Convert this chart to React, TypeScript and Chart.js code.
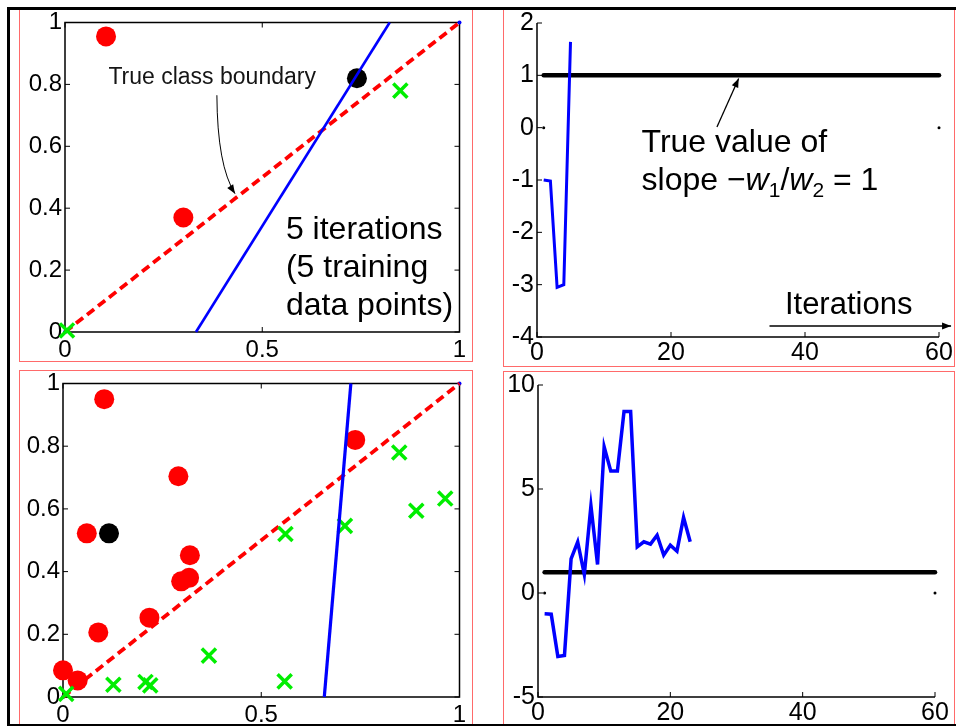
import { useEffect, useRef } from "react";
import { Chart, registerables } from "chart.js";

Chart.register(...registerables);

const FONT = '"Liberation Sans", Arial, Helvetica, sans-serif';
Chart.defaults.font.family = FONT;

// ---- feature space after 5 iterations (5 training points) ----
const earlyRedX = [0.104, 0.3];
const earlyRedY = [0.955, 0.37];
const earlyBlackX = [0.74];
const earlyBlackY = [0.82];
const earlyGreenX = [0.005, 0.85];
const earlyGreenY = [0.005, 0.78];
const earlyFitX = [0.332, 0.823];
const earlyFitY = [0, 1];

// ---- feature space with all training points ----
const lateRedX = [0.104, 0.737, 0.291, 0.06, 0.32, 0.298, 0.318, 0.218, 0.089, 0.0, 0.037];
const lateRedY = [0.95, 0.82, 0.704, 0.522, 0.452, 0.369, 0.38, 0.253, 0.206, 0.085, 0.053];
const lateBlackX = [0.116];
const lateBlackY = [0.522];
const lateGreenX = [0.008, 0.127, 0.208, 0.22, 0.368, 0.559, 0.561, 0.711, 0.848, 0.891, 0.964];
const lateGreenY = [0.01, 0.039, 0.048, 0.037, 0.132, 0.05, 0.52, 0.546, 0.78, 0.594, 0.633];
const lateFitX = [0.659, 0.726];
const lateFitY = [0, 1];

// true class boundary and the corner markers
const trueBoundaryX = [0, 1];
const trueBoundaryY = [0, 1];
const cornerX = [0, 1];
const cornerY = [0, 1];

// ---- slope estimate -w1/w2 per iteration ----
const earlyIterations = [1, 2, 3, 4, 5];
const earlySlope = [-1, -1.02, -3.05, -3.0, 1.64];
const lateIterations = [1, 2, 3, 4, 5, 6, 7, 8, 9, 10, 11, 12, 13, 14, 15, 16, 17, 18, 19, 20, 21, 22, 23];
const lateSlope = [
  -1, -1.02, -3.05, -3.0, 1.64, 2.46, 0.89, 4.19, 1.37, 7.03, 5.86, 5.86,
  8.72, 8.72, 2.22, 2.46, 2.35, 2.78, 1.82, 2.3, 2.01, 3.63, 2.46,
];
const trueSlopeX = [1, 60];
const trueSlopeY = [1, 1];
const zeroMarkX = [1, 60];
const zeroMarkY = [0, 0];

// ---- tick values ----
const unitXTicks = [0, 0.5, 1];
const unitYTicks = [0, 0.2, 0.4, 0.6, 0.8, 1];
const iterTicks = [0, 20, 40, 60];
const earlySlopeTicks = [-4, -3, -2, -1, 0, 1, 2];
const lateSlopeTicks = [-5, 0, 5, 10];

const pts = (xs: number[], ys: number[]) => xs.map((x, i) => ({ x, y: ys[i] }));

function axis(
  min: number,
  max: number,
  ticks: number[],
  horizontal: boolean,
  extent: number,
  size: number,
  pad: number
) {
  return {
    type: "linear" as const,
    min,
    max,
    grid: { display: false, drawTicks: false },
    border: { display: false },
    ticks: {
      autoSkip: false,
      maxRotation: 0,
      minRotation: 0,
      padding: pad,
      color: "#000",
      font: { family: FONT, size, lineHeight: 1 },
      callback: (v: number | string) => String(v),
    },
    afterBuildTicks: (s: any) => {
      s.ticks = ticks.map((v) => ({ value: v }));
    },
    afterFit: (s: any) => {
      if (horizontal) s.height = extent;
      else s.width = extent;
      s.paddingLeft = 0;
      s.paddingRight = 0;
      s.paddingTop = 0;
      s.paddingBottom = 0;
    },
  };
}

function arrowHead(ctx: CanvasRenderingContext2D, x: number, y: number, ang: number, len = 9, half = 3.5) {
  const c = Math.cos(ang);
  const s = Math.sin(ang);
  ctx.beginPath();
  ctx.moveTo(x, y);
  ctx.lineTo(x - len * c + half * s, y - len * s - half * c);
  ctx.lineTo(x - len * c - half * s, y - len * s + half * c);
  ctx.closePath();
  ctx.fill();
}

type Annotate = (ctx: CanvasRenderingContext2D, X: (v: number) => number, Y: (v: number) => number) => void;

function framePlugin(boxed: boolean, xTicks: number[], yTicks: number[], annotate?: Annotate) {
  return {
    id: "panelFrame",
    beforeDraw(chart: any) {
      const { ctx, width, height } = chart;
      ctx.save();
      ctx.fillStyle = "#fff";
      ctx.fillRect(0, 0, width, height);
      ctx.strokeStyle = "#ff6a6a";
      ctx.lineWidth = 1;
      ctx.strokeRect(0.5, 0.5, width - 1, height - 1);
      ctx.restore();
    },
    beforeDatasetsDraw(chart: any) {
      const { ctx, chartArea: a, scales } = chart;
      const xs = scales.x;
      const ys = scales.y;
      ctx.save();
      ctx.strokeStyle = "#000";
      ctx.lineWidth = 1.5;
      ctx.beginPath();
      if (boxed) {
        ctx.rect(a.left, a.top, a.right - a.left, a.bottom - a.top);
      } else {
        ctx.moveTo(a.left, a.top);
        ctx.lineTo(a.left, a.bottom);
        ctx.lineTo(a.right, a.bottom);
      }
      ctx.stroke();
      const T = 5;
      ctx.lineWidth = 1;
      ctx.beginPath();
      for (const v of xTicks) {
        const px = xs.getPixelForValue(v);
        ctx.moveTo(px, a.bottom);
        ctx.lineTo(px, a.bottom - T);
        if (boxed) {
          ctx.moveTo(px, a.top);
          ctx.lineTo(px, a.top + T);
        }
      }
      for (const v of yTicks) {
        const py = ys.getPixelForValue(v);
        ctx.moveTo(a.left, py);
        ctx.lineTo(a.left + T, py);
        if (boxed) {
          ctx.moveTo(a.right, py);
          ctx.lineTo(a.right - T, py);
        }
      }
      ctx.stroke();
      ctx.restore();
    },
    afterDatasetsDraw(chart: any) {
      if (!annotate) return;
      const { ctx, scales } = chart;
      ctx.save();
      annotate(
        ctx,
        (v) => scales.x.getPixelForValue(v),
        (v) => scales.y.getPixelForValue(v)
      );
      ctx.restore();
    },
  };
}

const circles = (xs: number[], ys: number[], color: string, order: number) => ({
  data: pts(xs, ys),
  showLine: false,
  pointStyle: "circle",
  pointRadius: 10,
  pointBackgroundColor: color,
  backgroundColor: color,
  pointBorderWidth: 0,
  borderWidth: 0,
  clip: false as const,
  order,
});

const crosses = (xs: number[], ys: number[], order: number) => ({
  data: pts(xs, ys),
  showLine: false,
  pointStyle: "crossRot",
  pointRadius: 10,
  pointBorderColor: "#00ee00",
  borderColor: "#00ee00",
  pointBorderWidth: 3.5,
  clip: false as const,
  order,
});

const line = (xs: number[], ys: number[], color: string, width: number, order: number, extra: any = {}) => ({
  data: pts(xs, ys),
  showLine: true,
  borderColor: color,
  borderWidth: width,
  pointRadius: 0,
  tension: 0,
  clip: false as const,
  order,
  ...extra,
});

const dots = (xs: number[], ys: number[], color: string, r: number, order: number) => ({
  data: pts(xs, ys),
  showLine: false,
  pointStyle: "circle",
  pointRadius: r,
  pointBackgroundColor: color,
  pointBorderWidth: 0,
  clip: false as const,
  order,
});

type Area = { l: number; r: number; t: number; b: number };

function baseConfig(w: number, h: number, area: Area, datasets: any[], scales: any, plugin: any) {
  return {
    type: "scatter" as const,
    data: { datasets },
    options: {
      responsive: false,
      animation: false as const,
      events: [],
      layout: { padding: { left: 0, top: area.t, right: w - area.r, bottom: 0 } },
      plugins: { legend: { display: false }, tooltip: { enabled: false } },
      scales,
    },
    plugins: [plugin],
  };
}

const earlyFeatureNotes: Annotate = (ctx, X, Y) => {
  ctx.fillStyle = "#151515";
  ctx.textAlign = "left";
  ctx.textBaseline = "alphabetic";
  ctx.font = `23px ${FONT}`;
  ctx.fillText("True class boundary", X(0.11), Y(0.8));
  const sx = X(0.385), sy = Y(0.765);
  const cx = X(0.386), cy = Y(0.537);
  const ex = X(0.431), ey = Y(0.447);
  ctx.strokeStyle = "#000";
  ctx.fillStyle = "#000";
  ctx.lineWidth = 1;
  ctx.beginPath();
  ctx.moveTo(sx, sy);
  ctx.quadraticCurveTo(cx, cy, ex, ey);
  ctx.stroke();
  arrowHead(ctx, ex, ey, Math.atan2(ey - cy, ex - cx), 9, 3.5);
  ctx.font = `32px ${FONT}`;
  ctx.fillText("5 iterations", X(0.56), Y(0.301));
  ctx.fillText("(5 training", X(0.56), Y(0.178));
  ctx.fillText("data points)", X(0.56), Y(0.055));
};

const earlySlopeNotes: Annotate = (ctx, X, Y) => {
  ctx.fillStyle = "#000";
  ctx.strokeStyle = "#000";
  ctx.textAlign = "left";
  ctx.textBaseline = "alphabetic";
  ctx.font = `32px ${FONT}`;
  ctx.fillText("True value of", X(15.6), Y(-0.465));
  const by = Y(-1.197);
  let cx = X(15.6);
  const parts: [string, string, number][] = [
    ["slope \u2212", `32px ${FONT}`, 0],
    ["w", `italic 32px ${FONT}`, 0],
    ["1", `21px ${FONT}`, 6.5],
    ["/", `32px ${FONT}`, 0],
    ["w", `italic 32px ${FONT}`, 0],
    ["2", `21px ${FONT}`, 6.5],
    [" = 1", `32px ${FONT}`, 0],
  ];
  for (const [t, f, dy] of parts) {
    ctx.font = f;
    ctx.fillText(t, cx, by + dy);
    cx += ctx.measureText(t).width;
  }
  // pointer to the true-slope line
  const ax = X(26.86), ay = Y(0.013), bx = X(30.1), byy = Y(0.94);
  ctx.lineWidth = 1.3;
  ctx.beginPath();
  ctx.moveTo(ax, ay);
  ctx.lineTo(bx, byy);
  ctx.stroke();
  arrowHead(ctx, bx, byy, Math.atan2(byy - ay, bx - ax), 9, 3.5);
  // iterations axis arrow
  ctx.font = `31px ${FONT}`;
  ctx.fillText("Iterations", X(37.0), Y(-3.553));
  const ix0 = X(34.7), ix1 = X(61.8), iy = Y(-3.79);
  ctx.beginPath();
  ctx.moveTo(ix0, iy);
  ctx.lineTo(ix1, iy);
  ctx.stroke();
  arrowHead(ctx, ix1, iy, 0, 9, 3.5);
};

type PanelProps = { left: number; top: number; width: number; height: number; make: () => any };

function Panel({ left, top, width, height, make }: PanelProps) {
  const ref = useRef<HTMLCanvasElement>(null);
  useEffect(() => {
    const chart = new Chart(ref.current as HTMLCanvasElement, make());
    return () => chart.destroy();
  }, []);
  return (
    <canvas
      ref={ref}
      width={width}
      height={height}
      style={{ position: "absolute", left, top, width, height, display: "block" }}
    />
  );
}

function featureConfig(
  w: number,
  h: number,
  area: Area,
  red: [number[], number[]],
  black: [number[], number[]],
  green: [number[], number[]],
  fit: [number[], number[]],
  fitWidth: number,
  labelPad: number,
  notes?: Annotate
) {
  const datasets = [
    line(fit[0], fit[1], "#0000ff", fitWidth, 0),
    crosses(green[0], green[1], 1),
    circles(black[0], black[1], "#000000", 2),
    circles(red[0], red[1], "#ff0000", 3),
    line(trueBoundaryX, trueBoundaryY, "#ff0000", 3.8, 4, { borderDash: [9, 5] }),
    dots(cornerX, cornerY, "#0000ff", 2, 5),
  ];
  const scales = {
    x: axis(0, 1, unitXTicks, true, h - area.b, 24, labelPad),
    y: axis(0, 1, unitYTicks, false, area.l, 24, 3),
  };
  return baseConfig(w, h, area, datasets, scales, framePlugin(true, unitXTicks, unitYTicks, notes));
}

function slopeConfig(
  w: number,
  h: number,
  area: Area,
  iters: number[],
  slope: number[],
  yMin: number,
  yMax: number,
  yTicks: number[],
  blueWidth: number,
  labelPad: number,
  notes?: Annotate
) {
  const datasets = [
    line(iters, slope, "#0000ff", blueWidth, 0, { borderJoinStyle: "miter" }),
    line(trueSlopeX, trueSlopeY, "#000000", 4.5, 1, { borderCapStyle: "round" }),
    dots(zeroMarkX, zeroMarkY, "#000000", 1.5, 2),
  ];
  const scales = {
    x: axis(0, 60, iterTicks, true, h - area.b, 25, labelPad),
    y: axis(yMin, yMax, yTicks, false, area.l, 25, 3),
  };
  return baseConfig(w, h, area, datasets, scales, framePlugin(false, iterTicks, yTicks, notes));
}

export default function App() {
  return (
    <div
      style={{
        position: "absolute",
        left: 0,
        top: 0,
        width: 956,
        height: 726,
        background: "#fff",
        overflow: "hidden",
      }}
    >
      <Panel
        left={19}
        top={9}
        width={454}
        height={353}
        make={() =>
          featureConfig(
            454,
            353,
            { l: 46, r: 444, t: 12, b: 323 },
            [earlyRedX, earlyRedY],
            [earlyBlackX, earlyBlackY],
            [earlyGreenX, earlyGreenY],
            [earlyFitX, earlyFitY],
            2.6,
            6,
            earlyFeatureNotes
          )
        }
      />
      <Panel
        left={503}
        top={9}
        width={452}
        height={358}
        make={() =>
          slopeConfig(
            452,
            358,
            { l: 34, r: 436, t: 14, b: 328 },
            earlyIterations,
            earlySlope,
            -4,
            2,
            earlySlopeTicks,
            3,
            4,
            earlySlopeNotes
          )
        }
      />
      <Panel
        left={19}
        top={370}
        width={454}
        height={356}
        make={() =>
          featureConfig(
            454,
            356,
            { l: 44, r: 445, t: 11, b: 327 },
            [lateRedX, lateRedY],
            [lateBlackX, lateBlackY],
            [lateGreenX, lateGreenY],
            [lateFitX, lateFitY],
            3.2,
            6
          )
        }
      />
      <Panel
        left={503}
        top={371}
        width={452}
        height={355}
        make={() =>
          slopeConfig(
            452,
            355,
            { l: 35, r: 432, t: 14, b: 326 },
            lateIterations,
            lateSlope,
            -5,
            10,
            lateSlopeTicks,
            3.5,
            4
          )
        }
      />
      <div
        style={{
          position: "absolute",
          left: 7,
          top: 7,
          width: 949,
          height: 719,
          boxSizing: "border-box",
          borderLeft: "3px solid #000",
          borderTop: "3px solid #000",
          borderBottom: "2px solid #000",
          pointerEvents: "none",
        }}
      />
    </div>
  );
}
